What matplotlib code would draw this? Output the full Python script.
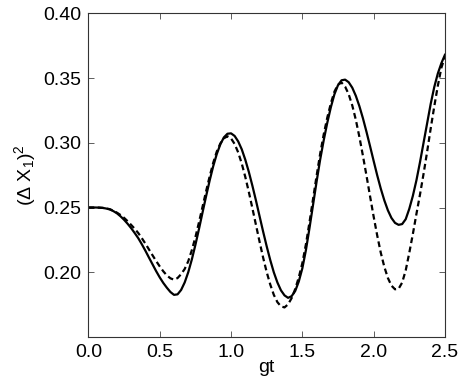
"""Squeezing variance (Delta X1)^2 versus gt, solid and dashed cases."""
import numpy as np
import matplotlib
matplotlib.use("Agg")
import matplotlib.pyplot as plt

plt.rcParams["font.family"] = ["Liberation Sans", "DejaVu Sans"]
plt.rcParams["mathtext.fontset"] = "custom"
plt.rcParams["mathtext.rm"] = "Liberation Sans"
plt.rcParams["mathtext.it"] = "Liberation Sans"

# values, step 0.025 in gt
gt = [round(0.025 * i, 3) for i in range(101)]

solid = [
    0.2500, 0.2500, 0.2500, 0.2499, 0.2497, 0.2492, 0.2485, 0.2472, 0.2455, 0.2432,
    0.2405, 0.2374, 0.2340, 0.2302, 0.2262, 0.2215, 0.2165, 0.2112, 0.2060, 0.2008,
    0.1960, 0.1917, 0.1880, 0.1847, 0.1825, 0.1829, 0.1863, 0.1921, 0.2000, 0.2098,
    0.2211, 0.2333, 0.2461, 0.2587, 0.2708, 0.2819, 0.2913, 0.2988, 0.3042, 0.3070,
    0.3073, 0.3053, 0.3011, 0.2950, 0.2869, 0.2774, 0.2667, 0.2553, 0.2433, 0.2314,
    0.2200, 0.2094, 0.1999, 0.1921, 0.1860, 0.1821, 0.1802, 0.1815, 0.1855, 0.1928,
    0.2030, 0.2170, 0.2340, 0.2520, 0.2700, 0.2870, 0.3020, 0.3155, 0.3275, 0.3375,
    0.3445, 0.3483, 0.3488, 0.3468, 0.3426, 0.3363, 0.3283, 0.3189, 0.3084, 0.2973,
    0.2860, 0.2749, 0.2646, 0.2555, 0.2478, 0.2419, 0.2381, 0.2366, 0.2372, 0.2410,
    0.2490, 0.2590, 0.2710, 0.2850, 0.3000, 0.3150, 0.3300, 0.3430, 0.3535, 0.3615,
    0.3680]

dashed = [
    0.2500, 0.2500, 0.2500, 0.2499, 0.2497, 0.2493, 0.2487, 0.2475, 0.2460, 0.2442,
    0.2420, 0.2394, 0.2365, 0.2335, 0.2302, 0.2262, 0.2220, 0.2175, 0.2130, 0.2086,
    0.2045, 0.2007, 0.1975, 0.1953, 0.1942, 0.1955, 0.1985, 0.2025, 0.2085, 0.2170,
    0.2270, 0.2385, 0.2505, 0.2625, 0.2740, 0.2845, 0.2932, 0.2995, 0.3035, 0.3050,
    0.3034, 0.2991, 0.2926, 0.2840, 0.2736, 0.2619, 0.2493, 0.2364, 0.2236, 0.2113,
    0.2001, 0.1905, 0.1825, 0.1769, 0.1736, 0.1728, 0.1752, 0.1800, 0.1870, 0.1960,
    0.2070, 0.2215, 0.2385, 0.2565, 0.2745, 0.2915, 0.3065, 0.3195, 0.3305, 0.3395,
    0.3450, 0.3465, 0.3434, 0.3375, 0.3289, 0.3178, 0.3046, 0.2899, 0.2745, 0.2586,
    0.2430, 0.2284, 0.2151, 0.2041, 0.1955, 0.1896, 0.1868, 0.1872, 0.1920, 0.2015,
    0.2150, 0.2295, 0.2450, 0.2600, 0.2760, 0.2930, 0.3110, 0.3280, 0.3440, 0.3580,
    0.3665]

xticks = [0.0, 0.5, 1.0, 1.5, 2.0, 2.5]
yticks = [0.20, 0.25, 0.30, 0.35, 0.40]

fig = plt.figure(figsize=(4.63, 3.82), dpi=100)
ax = fig.add_axes([0.191, 0.118, 0.770, 0.847])

ax.plot(gt, solid, color="black", lw=1.6, solid_joinstyle="round")
ax.plot(gt, dashed, color="black", lw=1.6, linestyle=(0, (2.6, 1.6)))

ax.set_xlim(0, 2.5)
ax.set_ylim(0.15, 0.40)
ax.set_xticks(xticks)
ax.set_yticks(yticks)
ax.set_xticklabels([f"{v:.1f}" for v in xticks])
ax.set_yticklabels([f"{v:.2f}" for v in yticks])
ax.tick_params(direction="in", top=True, right=True, length=4, width=0.6,
               labelsize=14, color="#444444", pad=5)
for s in ax.spines.values():
    s.set_linewidth(0.8)
    s.set_color("#333333")

ax.set_xlabel("gt", fontsize=14, labelpad=-1)
ax.set_ylabel(r"$(\Delta\ \mathrm{X}_1)^2$", fontsize=14, labelpad=4)

fig.savefig("out.png", dpi=100)
plt.close()
